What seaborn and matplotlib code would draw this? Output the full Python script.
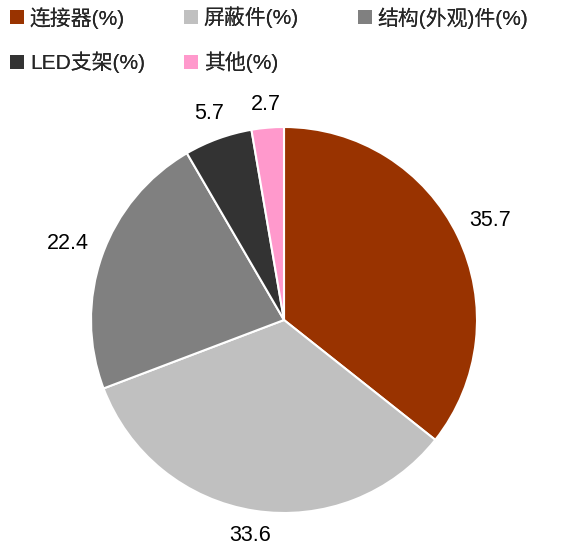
import matplotlib
matplotlib.use("Agg")
import numpy as np
import matplotlib.pyplot as plt
import seaborn as sns
from matplotlib.patches import Patch

# =========================
# DATA
# =========================

categories = ["连接器(%)", "屏蔽件(%)", "结构(外观)件(%)", "LED支架(%)", "其他(%)"]
shares = [35.7, 33.6, 22.4, 5.7, 2.7]
colors = ["#993300", "#C0C0C0", "#808080", "#333333", "#FF99CC"]

sns.set_theme(style="white")
plt.rcParams["font.family"] = ["Liberation Sans", "Noto Sans CJK SC", "DejaVu Sans"]

fig = plt.figure(figsize=(5.81, 5.46), dpi=100)

# pie axes, centred at about (284, 320) px, radius ~193 px
W, H = 581, 546
cx, cy, r = 284, 546 - 320, 193
ax = fig.add_axes([(cx - r) / W, (cy - r) / H, 2 * r / W, 2 * r / H])

wedges, texts = ax.pie(
    shares,
    colors=colors,
    labels=[f"{v:.1f}" for v in shares],
    startangle=90,
    counterclock=False,
    labeldistance=1.1,
    wedgeprops=dict(edgecolor="white", linewidth=1.5),
    textprops=dict(fontsize=15.5, color="black"),
)
ax.set_xlim(-1, 1)
ax.set_ylim(-1, 1)
ax.set_aspect("equal")
ax.axis("off")

# =========================
# LABELS "OUTSIDE END" (box just clear of the rim)
# =========================

fig.canvas.draw()
renderer = fig.canvas.get_renderer()
px_per_unit = r  # axes spans 2 units over 2*r px
for w, t in zip(wedges, texts):
    ang = np.deg2rad((w.theta1 + w.theta2) / 2)
    c, s = np.cos(ang), np.sin(ang)
    bb = t.get_window_extent(renderer)
    hw = bb.width / 2 / px_per_unit
    hh = bb.height / 2 / px_per_unit * 0.8
    d = 1.07 + abs(c) * hw + abs(s) * hh
    t.set_position((c * d, s * d))
    t.set_ha("center")
    t.set_va("center")

# =========================
# LEGEND (fixed-width columns)
# =========================

col_items = [[0, 3], [1, 4], [2]]
col_x = [10, 184, 358]
for items, x0 in zip(col_items, col_x):
    leg = fig.legend(
        [Patch(facecolor=colors[i], edgecolor="none") for i in items],
        [categories[i] for i in items],
        loc="upper left",
        bbox_to_anchor=(x0 / W, 1 - 7 / H),
        borderaxespad=0,
        borderpad=0,
        frameon=False,
        fontsize=15,
        handlelength=0.65,
        handleheight=0.65,
        handletextpad=0.3,
        labelspacing=1.1,
    )
    fig.add_artist(leg)

plt.savefig("out.png", dpi=100)
plt.close()
